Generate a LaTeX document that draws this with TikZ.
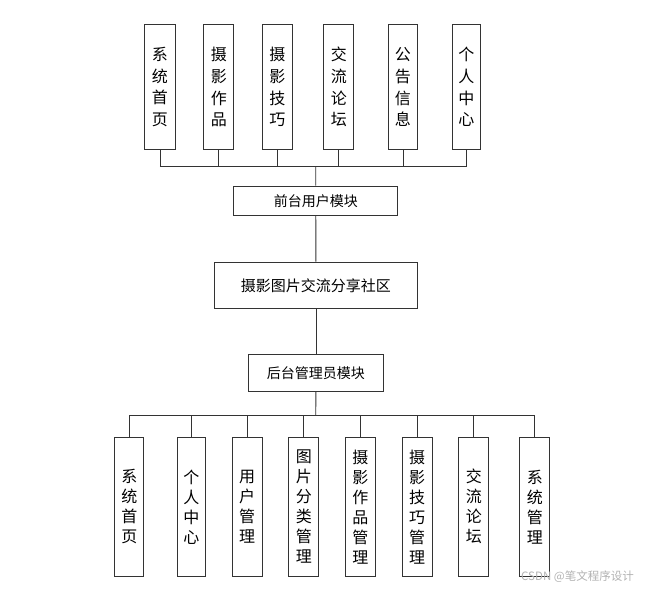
\documentclass[tikz,border=0pt]{standalone}
\usepackage{fontspec}
\newfontfamily\cjk{Noto Sans CJK SC}
\tikzset{
  line/.style={draw=black!80, line width=0.9pt},
  vbox/.style={line, fill=white, inner sep=0pt, align=center, font=\cjk\fontsize{16}{21.7}\selectfont},
  vboxb/.style={line, fill=white, inner sep=0pt, align=center, font=\cjk\fontsize{16}{20}\selectfont},
  hbox/.style={line, fill=white, inner sep=0pt, font=\cjk\fontsize{14}{16}\selectfont},
}
\begin{document}
\begin{tikzpicture}[x=1pt,y=-1pt]
\useasboundingbox (0,0) rectangle (647,589);
% top boxes
\foreach \n/\xa/\xb/\t in {t1/144.3/174.7/{系\\统\\首\\页}, t2/203.3/233.3/{摄\\影\\作\\品}, t3/261.7/292.3/{摄\\影\\技\\巧}, t4/323.3/353.3/{交\\流\\论\\坛}, t5/388.3/416.7/{公\\告\\信\\息}, t6/451.7/480/{个\\人\\中\\心}}{
  \node[vbox, minimum width=\xb-\xa, minimum height=125.3, anchor=north west] (\n) at (\xa,24) {\t};
}
% middle boxes
\node[hbox, minimum width=164, minimum height=29.3, anchor=north west] (front) at (233.3,185.7) {前台用户模块};
\node[hbox, minimum width=202.4, minimum height=46.6, anchor=north west, font=\cjk\fontsize{15}{17}\selectfont] (center) at (214.3,261.7) {摄影图片交流分享社区};
\node[hbox, minimum width=134.4, minimum height=36.4, anchor=north west] (back) at (248.3,354.3) {后台管理员模块};
% bottom boxes
\foreach \n/\xa/\xb/\t in {b1/114.3/143.3/{系\\统\\首\\页}, b2/176.7/205/{个\\人\\中\\心}, b3/231.7/261.7/{用\\户\\管\\理}, b4/288.3/318.3/{图\\片\\分\\类\\管\\理}, b5/345/375/{摄\\影\\作\\品\\管\\理}, b6/401.7/431.7/{摄\\影\\技\\巧\\管\\理}, b7/458.3/488.3/{交\\流\\论\\坛}, b8/519.3/549.3/{系\\统\\管\\理}}{
  \node[vboxb, minimum width=\xb-\xa, minimum height=139.3, anchor=north west] (\n) at (\xa,436.7) {\t};
}
% top bus
\coordinate (tbus) at (315.7,166.7);
\foreach \n in {t1,t2,t3,t4,t5,t6}{
  \draw[line] (\n.south) -- (\n.south |- tbus);
}
\draw[line] (t1.south |- tbus) -- (t6.south |- tbus);
\draw[line] (tbus) -- (front.north);
\draw[line] (front) -- (center);
\draw[line] (center) -- (back);
% bottom bus
\coordinate (bbus) at (315.7,415.7);
\draw[line] (back.south) -- (bbus);
\foreach \n in {b1,b2,b3,b4,b5,b6,b7,b8}{
  \draw[line] (\n.north) -- (\n.north |- bbus);
}
\draw[line] (b1.north |- bbus) -- (b8.north |- bbus);
% watermark
\node[anchor=west, inner sep=0pt, text=black!30, font=\cjk\fontsize{11.5}{13}\selectfont] (wm) at (521,577) {CSDN @笔文程序设计};
\end{tikzpicture}
\end{document}
